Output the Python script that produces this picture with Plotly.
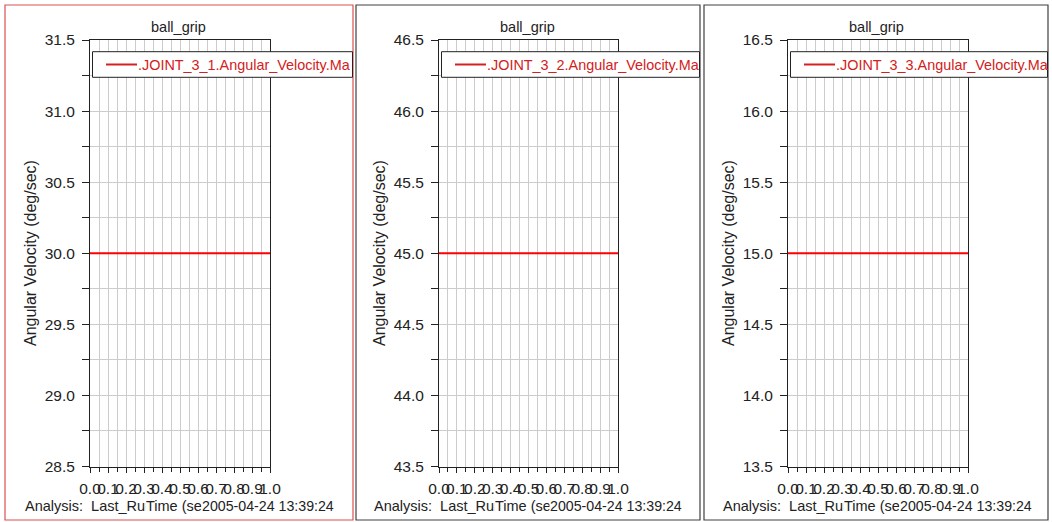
import plotly.graph_objects as go

W, H = 1052, 522

# ---------------- data ----------------
panel_titles = ["ball_grip", "ball_grip", "ball_grip"]
series_names = [".JOINT_3_1.Angular_Velocity.Ma",
                ".JOINT_3_2.Angular_Velocity.Ma",
                ".JOINT_3_3.Angular_Velocity.Ma"]
time_sec = [0.0, 1.0]
velocity_1 = [30.0, 30.0]
velocity_2 = [45.0, 45.0]
velocity_3 = [15.0, 15.0]
y_ranges = [[28.5, 31.5], [43.5, 46.5], [13.5, 16.5]]
x_tick_vals = [0.0, 0.1, 0.2, 0.3, 0.4, 0.5, 0.6, 0.7, 0.8, 0.9, 1.0]
x_tick_text = ["0.0", "0.1", "0.2", "0.3", "0.4", "0.5", "0.6", "0.7", "0.8", "0.9", "1.0"]
y_axis_title = "Angular Velocity (deg/sec)"
x_axis_title = "Time (sec)"
analysis_label = "Analysis:\u00a0 Last_Run"
timestamp = "2005-04-24 13:39:24"

series_values = [velocity_1, velocity_2, velocity_3]

# ---------------- layout geometry (pixels) ----------------
panels = [
    dict(frame=(5, 5, 353, 520), plot=(90, 270), border="#dd5050"),
    dict(frame=(356, 5, 700, 520), plot=(439, 618), border="#404040"),
    dict(frame=(704, 5, 1048, 520), plot=(788, 968), border="#404040"),
]
PLOT_TOP, PLOT_BOTTOM = 40, 466.5

def fx(x):
    return x / W

def fy(y):
    return 1 - y / H

FAM = "Liberation Sans, Arial, sans-serif"
TICK_FONT = dict(family=FAM, size=15.5, color="#222222")
TEXT_FONT = dict(family=FAM, size=14.5, color="#222222")
DATE_FONT = dict(family=FAM, size=14.2, color="#222222")
RED = "#ff0000"
LEG_RED = "#d42020"
GRID = "#cccccc"

fig = go.Figure()
shapes = []
annotations = []

for i, p in enumerate(panels):
    n = "" if i == 0 else str(i + 1)
    xa = "xaxis" + n
    ya = "yaxis" + n
    fig.add_trace(go.Scatter(
        x=time_sec, y=series_values[i], mode="lines",
        line=dict(color=RED, width=2),
        xaxis="x" + n, yaxis="y" + n, showlegend=False, hoverinfo="skip"))

    px0, px1 = p["plot"]
    fig.update_layout({
        xa: dict(
            domain=[fx(px0), fx(px1)], range=[0, 1], anchor="y" + n,
            tickmode="array", tickvals=x_tick_vals, ticktext=x_tick_text,
            tickangle=0, ticks="outside", ticklen=5, tickcolor="#222",
            showgrid=True, gridcolor=GRID, gridwidth=1,
            minor=dict(dtick=0.05, showgrid=True, gridcolor=GRID, gridwidth=1,
                       ticks="outside", ticklen=4, tickcolor="#222"),
            showline=True, linecolor="#222", linewidth=1, mirror=True,
            zeroline=False, tickfont=TICK_FONT, fixedrange=True,
            ticklabelstandoff=3, automargin=False,
        ),
        ya: dict(
            domain=[fy(PLOT_BOTTOM), fy(PLOT_TOP)], range=y_ranges[i], anchor="x" + n,
            dtick=0.5, tick0=0, tickformat=".1f",
            ticks="outside", ticklen=7, tickcolor="#222",
            showgrid=True, gridcolor=GRID, gridwidth=1,
            minor=dict(dtick=0.25, showgrid=True, gridcolor=GRID, gridwidth=1,
                       ticks="outside", ticklen=7, tickcolor="#222"),
            showline=True, linecolor="#222", linewidth=1, mirror=True,
            zeroline=False, tickfont=TICK_FONT, fixedrange=True,
            ticklabelstandoff=4, automargin=False,
        ),
    })

    fx0, fy0, fx1, fy1 = p["frame"]
    # panel frame
    shapes.append(dict(type="rect", xref="paper", yref="paper",
                       x0=fx(fx0), x1=fx(fx1), y0=fy(fy1), y1=fy(fy0),
                       line=dict(color=p["border"], width=1.2), layer="below"))
    # legend box (clipped by panel edge)
    shapes.append(dict(type="rect", xref="paper", yref="paper",
                       x0=fx(px0 + 2.5), x1=fx(fx1 - 0.5), y0=fy(77.3), y1=fy(51.7),
                       fillcolor="white", line=dict(color="#222", width=1), layer="above"))
    shapes.append(dict(type="line", xref="paper", yref="paper",
                       x0=fx(px0 + 16), x1=fx(px0 + 47), y0=fy(64.5), y1=fy(64.5),
                       line=dict(color=LEG_RED, width=2), layer="above"))
    annotations.append(dict(text=series_names[i], xref="paper", yref="paper",
                            x=fx(px0 + 46), y=fy(64.5), xanchor="left", yanchor="middle",
                            showarrow=False, font=dict(family=FAM, size=14.4, color=LEG_RED)))
    # title
    annotations.append(dict(text=panel_titles[i], xref="paper", yref="paper",
                            x=fx((px0 + px1) / 2 - 1.5), y=fy(27), xanchor="center", yanchor="middle",
                            showarrow=False, font=TEXT_FONT))
    # y-axis title
    annotations.append(dict(text=y_axis_title, xref="paper", yref="paper",
                            x=fx(px0 - 60), y=fy(253), xanchor="center", yanchor="middle",
                            textangle=-90, showarrow=False, font=dict(family=FAM, size=16, color="#222")))
    # bottom texts (overlapping as in the original)
    annotations.append(dict(text=analysis_label, xref="paper", yref="paper",
                            x=fx(px0 - 67), y=fy(506), xanchor="left", yanchor="middle",
                            showarrow=False, font=TEXT_FONT))
    annotations.append(dict(text=x_axis_title, xref="paper", yref="paper",
                            x=fx((px0 + px1) / 2), y=fy(506), xanchor="center", yanchor="middle",
                            showarrow=False, bgcolor="white", borderpad=0, font=TEXT_FONT))
    annotations.append(dict(text=timestamp, xref="paper", yref="paper",
                            x=fx(px1 + 64.5), y=fy(506), xanchor="right", yanchor="middle",
                            showarrow=False, bgcolor="white", borderpad=0, font=DATE_FONT))

fig.update_layout(
    width=W, height=H,
    margin=dict(l=0, r=0, t=0, b=0, pad=0, autoexpand=False),
    paper_bgcolor="white", plot_bgcolor="white",
    showlegend=False, shapes=shapes, annotations=annotations,
)

fig.write_html("out.html", config={"displayModeBar": False})
